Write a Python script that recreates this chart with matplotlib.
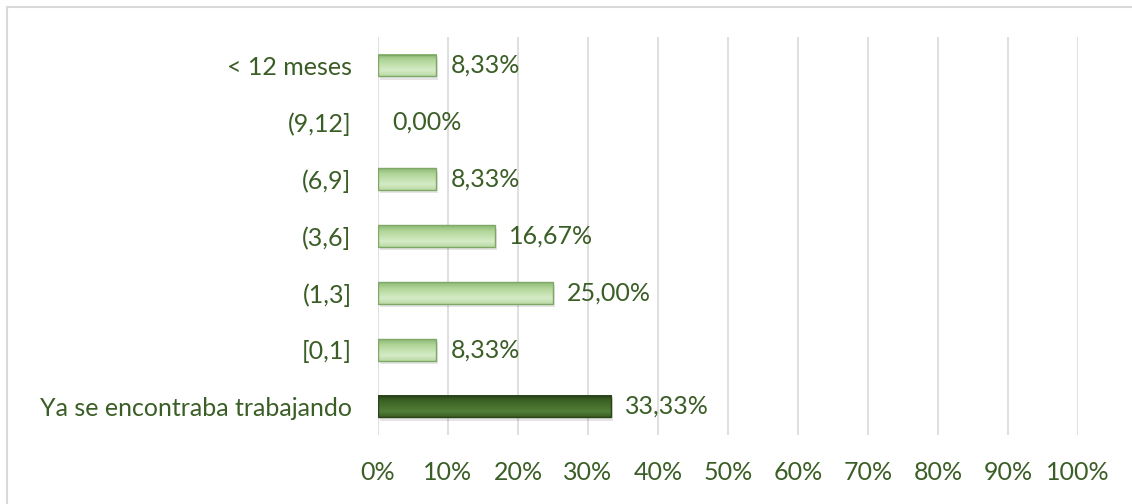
import numpy as np
import matplotlib.pyplot as plt
from matplotlib.patches import Rectangle
from matplotlib.colors import LinearSegmentedColormap
from matplotlib.ticker import MultipleLocator, FuncFormatter

categories = ["Ya se encontraba trabajando", "[0,1]", "(1,3]", "(3,6]", "(6,9]", "(9,12]", "< 12 meses"]
values = [33.33, 8.33, 25.00, 16.67, 8.33, 0.00, 8.33]
labels = ["33,33%", "8,33%", "25,00%", "16,67%", "8,33%", "0,00%", "8,33%"]

txt_color = "#3b5e26"
plt.rcParams['font.family'] = ['Lato', 'DejaVu Sans']

fig = plt.figure(figsize=(11.32, 5.04), dpi=100)
fig.patches.append(Rectangle((7/1132, -0.1), 1.2, 1 - 7/504 + 0.1, transform=fig.transFigure,
                             fill=False, edgecolor="#d9d9d9", linewidth=1.5))
ax = fig.add_axes([378/1132, 1 - 435/504, 700/1132, 398/504])

light = LinearSegmentedColormap.from_list("light", ["#b9d9a3", "#d6ebc8", "#c3e0ae", "#afd497", "#8cb771"])
dark = LinearSegmentedColormap.from_list("dark", ["#3a5e23", "#52803a", "#466f2c", "#3c6224", "#2b4619"])

y = np.arange(len(categories))
h = 0.38
bars = ax.barh(y, values, height=h, color="none", edgecolor="none", zorder=3)
grad = np.linspace(0, 1, 64).reshape(-1, 1)
for i, (b, v) in enumerate(zip(bars, values)):
    if v <= 0:
        continue
    cmap = dark if i == 0 else light
    edge = "#2a4419" if i == 0 else "#7fa866"
    ax.imshow(grad, cmap=cmap, aspect="auto", zorder=3,
              extent=[0, v, y[i] + h / 2, y[i] - h / 2], interpolation="bicubic")
    ax.add_patch(Rectangle((0, y[i] - h / 2), v, h, fill=False, edgecolor=edge, linewidth=1, zorder=4))
    # soft shadow
    ax.add_patch(Rectangle((0.3, y[i] - h / 2 - 0.06), v, h, facecolor="#000000", alpha=0.1,
                           edgecolor="none", zorder=2))

for i, v in enumerate(values):
    ax.text(v + 2.0, y[i], labels[i], va="center", ha="left", fontsize=18, color=txt_color, zorder=5)

ax.set_xlim(0, 100)
ax.set_ylim(-0.5, len(categories) - 0.5)
ax.xaxis.set_major_locator(MultipleLocator(10))
ax.xaxis.set_major_formatter(FuncFormatter(lambda x, p: f"{int(x)}%"))
ax.set_yticks(y)
ax.set_yticklabels(categories)
ax.grid(axis="x", color="#d9d9d9", linewidth=1.2, zorder=0)
ax.set_axisbelow(True)
for s in ax.spines.values():
    s.set_visible(False)
ax.tick_params(axis="both", length=0, labelsize=18, labelcolor=txt_color)
ax.tick_params(axis="x", pad=19)
ax.tick_params(axis="y", pad=19)

fig.savefig("out.png", dpi=100)
